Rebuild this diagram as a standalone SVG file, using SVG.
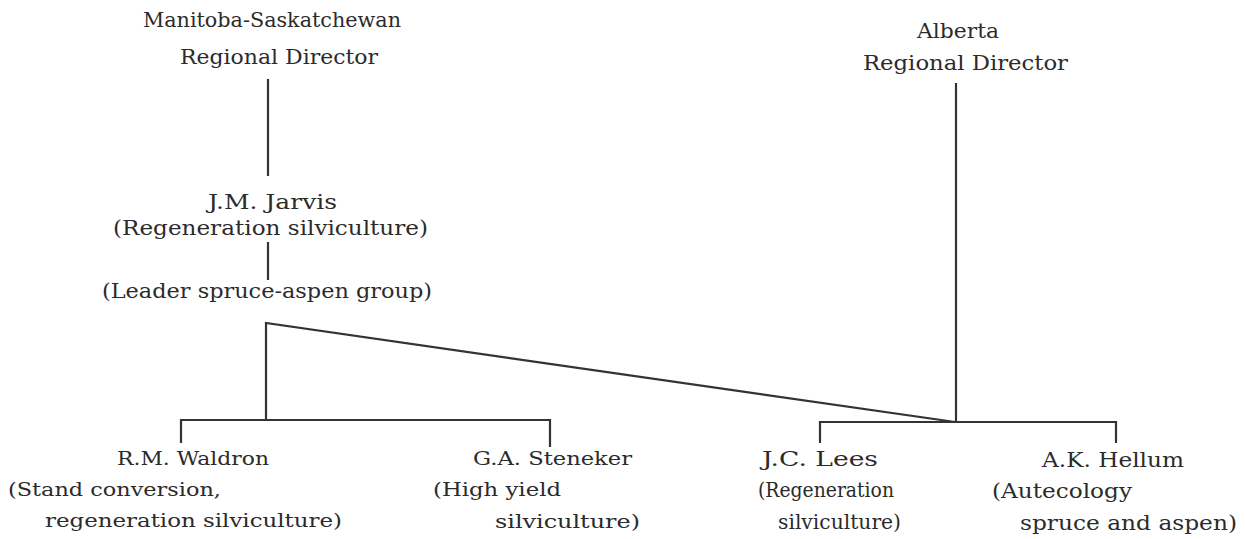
<svg xmlns="http://www.w3.org/2000/svg" width="1245" height="539" viewBox="0 0 1245 539">
<style>
text{font-family:"DejaVu Serif","Liberation Serif",serif;fill:#2b2b2b;font-size:20px}
.s{font-size:19px}
.c{fill:none;stroke:#333;stroke-width:2.2;stroke-linejoin:miter}
</style>
<rect width="1245" height="539" fill="#fff"/>
<g id="connectors">
<path class="c" d="M268,79 V176"/>
<path class="c" d="M268,242 V280"/>
<path class="c" d="M266,420 V323 L955,422"/>
<path class="c" d="M181,443 V420 H550 V447"/>
<path class="c" d="M956,83 V422"/>
<path class="c" d="M820,443 V422 H1116 V443"/>
</g>
<g id="ms-director">
<text x="143" y="27" textLength="258" lengthAdjust="spacingAndGlyphs">Manitoba-Saskatchewan</text>
<text x="180" y="64" textLength="198" lengthAdjust="spacingAndGlyphs">Regional Director</text>
</g>
<g id="alberta-director">
<text x="917" y="38" textLength="82" lengthAdjust="spacingAndGlyphs">Alberta</text>
<text x="863" y="70" textLength="205" lengthAdjust="spacingAndGlyphs">Regional Director</text>
</g>
<g id="jarvis">
<text x="208" y="209" textLength="129" lengthAdjust="spacingAndGlyphs">J.M. Jarvis</text>
<text x="113" y="235" textLength="315" lengthAdjust="spacingAndGlyphs">(Regeneration silviculture)</text>
<text x="102" y="298" textLength="330" lengthAdjust="spacingAndGlyphs">(Leader spruce-aspen group)</text>
</g>
<g id="waldron">
<text class="s" x="117" y="465" textLength="152" lengthAdjust="spacingAndGlyphs">R.M. Waldron</text>
<text class="s" x="8" y="496" textLength="213" lengthAdjust="spacingAndGlyphs">(Stand conversion,</text>
<text class="s" x="45" y="527" textLength="297" lengthAdjust="spacingAndGlyphs">regeneration silviculture)</text>
</g>
<g id="steneker">
<text class="s" x="473" y="465" textLength="159" lengthAdjust="spacingAndGlyphs">G.A. Steneker</text>
<text class="s" x="433" y="496" textLength="128" lengthAdjust="spacingAndGlyphs">(High yield</text>
<text class="s" x="495" y="528" textLength="145" lengthAdjust="spacingAndGlyphs">silviculture)</text>
</g>
<g id="lees">
<text x="762" y="466" textLength="116" lengthAdjust="spacingAndGlyphs">J.C. Lees</text>
<text x="758" y="497" textLength="136" lengthAdjust="spacingAndGlyphs">(Regeneration</text>
<text x="778" y="529" textLength="123" lengthAdjust="spacingAndGlyphs">silviculture)</text>
</g>
<g id="hellum">
<text x="1042" y="467" textLength="142" lengthAdjust="spacingAndGlyphs">A.K. Hellum</text>
<text x="992" y="498" textLength="140" lengthAdjust="spacingAndGlyphs">(Autecology</text>
<text x="1020" y="530" textLength="217" lengthAdjust="spacingAndGlyphs">spruce and aspen)</text>
</g>
</svg>
